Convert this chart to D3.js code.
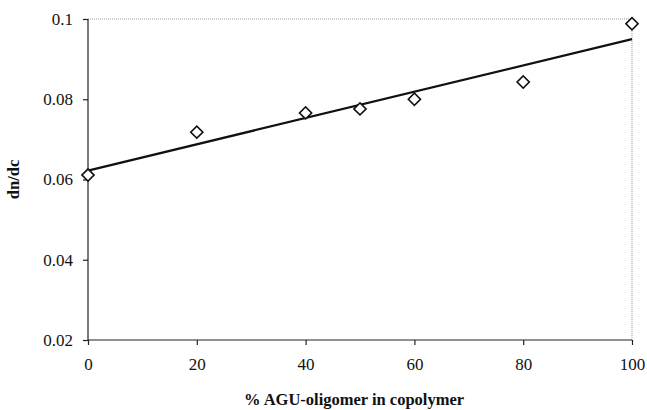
<!DOCTYPE html>
<html>
<head>
<meta charset="utf-8">
<script src="https://cdn.jsdelivr.net/npm/d3@7"></script>
<style>
	body { margin: 0; background: #fff; }
	svg { display: block; }
	.tick text { font-family: "Liberation Serif", serif; font-size: 17px; fill: #111; }
</style>
</head>
<body>
<svg id="d-svg" width="647" height="410"></svg>
<script>
// data
var pctAgu = [0, 20, 40, 50, 60, 80, 100];
var dndc = [0.0611, 0.0718, 0.0766, 0.0776, 0.0800, 0.0843, 0.0988];
var xTicks = [0, 20, 40, 60, 80, 100];
var yTicks = [0.02, 0.04, 0.06, 0.08, 0.1];
var yTickLabels = ['0.02', '0.04', '0.06', '0.08', '0.1'];

var svg = d3.select('#d-svg');

var startx = 88, endx = 632;
var starty = 19, endy = 340;

var xscale = d3.scaleLinear()
	.domain([0, 100])
	.range([startx, endx]);

var yscale = d3.scaleLinear()
	.domain([0.02, 0.1])
	.range([endy, starty]);

// plot frame: dotted top / right
svg.append('line')
	.attr('x1', startx).attr('x2', endx)
	.attr('y1', starty).attr('y2', starty)
	.attr('stroke', '#999')
	.attr('stroke-dasharray', '1,1');
svg.append('line')
	.attr('x1', endx).attr('x2', endx)
	.attr('y1', starty).attr('y2', endy)
	.attr('stroke', '#999')
	.attr('stroke-dasharray', '1,1');

var xaxis = d3.axisBottom()
	.scale(xscale)
	.tickValues(xTicks)
	.tickSize(5)
	.tickPadding(13);

var yaxis = d3.axisLeft()
	.scale(yscale)
	.tickValues(yTicks)
	.tickFormat((d, i) => yTickLabels[i])
	.tickSize(5)
	.tickPadding(10);

var gx = svg.append('g')
	.attr('id', 'x-axis')
	.attr('transform', 'translate(0,' + endy + ')')
	.call(xaxis);

var gy = svg.append('g')
	.attr('id', 'y-axis')
	.attr('transform', 'translate(' + startx + ',0)')
	.call(yaxis);

gx.selectAll('path, line').attr('stroke', '#222').attr('stroke-width', 1.2);
gy.selectAll('path, line').attr('stroke', '#222').attr('stroke-width', 1.2);
gx.select('.domain').attr('d', 'M' + startx + ',0H' + endx);
gy.select('.domain').attr('d', 'M0,' + endy + 'V' + starty);

// least squares trend line
var mx = d3.mean(pctAgu), my = d3.mean(dndc);
var sxy = d3.sum(pctAgu, (d, i) => (d - mx) * (dndc[i] - my));
var sxx = d3.sum(pctAgu, d => (d - mx) * (d - mx));
var slope = sxy / sxx;
var icpt = my - slope * mx;
var trend = [0, 100].map(x => [x, icpt + slope * x]);

var line = d3.line()
	.x(d => xscale(d[0]))
	.y(d => yscale(d[1]));

svg.append('path')
	.datum(trend)
	.attr('d', line)
	.attr('fill', 'none')
	.attr('stroke', '#111')
	.attr('stroke-width', 2.2);

// hollow diamonds
var diamond = d3.symbol().type(d3.symbolSquare).size(74);
svg.selectAll('.pt')
	.data(pctAgu)
	.enter()
	.append('path')
	.attr('class', 'pt')
	.attr('d', diamond)
	.attr('transform', (d, i) => 'translate(' + xscale(d) + ',' + yscale(dndc[i]) + ') rotate(45)')
	.attr('fill', '#fff')
	.attr('stroke', '#111')
	.attr('stroke-width', 1.6);

// axis titles
svg.append('text')
	.attr('x', (startx + endx) / 2 - 6)
	.attr('y', 405)
	.attr('text-anchor', 'middle')
	.style('font-family', '"Liberation Serif", serif')
	.style('font-weight', 'bold')
	.style('font-size', '16.5px')
	.attr('fill', '#111')
	.text('% AGU-oligomer in copolymer');

svg.append('text')
	.attr('transform', 'translate(19,' + ((starty + endy) / 2) + ') rotate(-90)')
	.attr('text-anchor', 'middle')
	.style('font-family', '"Liberation Serif", serif')
	.style('font-weight', 'bold')
	.style('font-size', '16.5px')
	.attr('fill', '#111')
	.text('dn/dc');
</script>
</body>
</html>
